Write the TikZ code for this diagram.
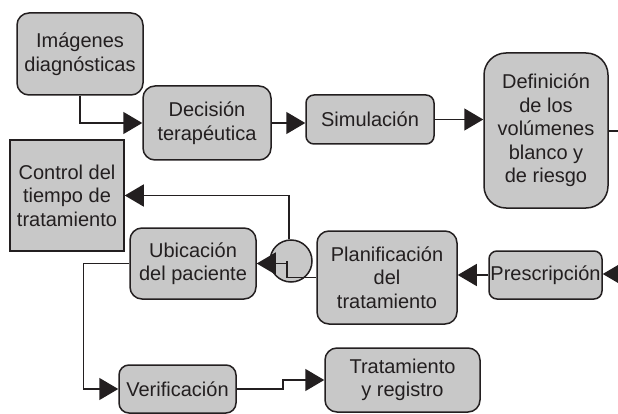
\documentclass[tikz,border=0pt]{standalone}
\usepackage{fontspec}
\setmainfont{Liberation Sans}
\usepackage{tikz}
\usetikzlibrary{arrows.meta}
\definecolor{boxgray}{RGB}{200,200,200}
\definecolor{inkc}{RGB}{35,31,32}

\begin{document}
\begin{tikzpicture}[x=1pt,y=-1pt, every node/.style={font=\fontsize{20}{23.5}\selectfont, text=inkc}]
		\tikzstyle{box}=[draw=inkc, fill=boxgray, line width=1.5pt, rounded corners=12pt, align=center, inner sep=0pt]
		\tikzstyle{flow}=[draw=inkc, line width=1.5pt, -{Triangle[length=19pt,width=22pt]}]
		\useasboundingbox (0,0) rectangle (618,414);
		
		\node[box, minimum width=126pt, minimum height=82pt]                     (img)  at (80, 54)     {Imágenes\\diagnósticas};
		\node[box, minimum width=128pt, minimum height=74pt]                     (dec)  at (207, 123)   {Decisión\\terapéutica};
		\node[box, minimum width=128pt, minimum height=49pt, rounded corners=8pt] (sim)  at (370, 119.5) {Simulación};
		\node[box, minimum width=124pt, minimum height=155pt, rounded corners=22pt] (defi) at (546, 130.5) {Definición\\de los\\volúmenes\\blanco y\\de riesgo};
		\node[box, minimum width=114pt, minimum height=111pt, sharp corners]     (ctrl) at (67, 195.5)  {Control del\\tiempo de\\tratamiento};
		\node[box, minimum width=126pt, minimum height=71pt]                     (ubi)  at (193, 263.5) {Ubicación\\del paciente};
		\node[box, minimum width=140pt, minimum height=93pt]                     (plan) at (387, 277.5) {Planificación\\del\\tratamiento};
		\node[box, minimum width=113pt, minimum height=48pt, rounded corners=8pt] (pres) at (545.5, 275) {Prescripción};
		\node[box, minimum width=117pt, minimum height=48pt, rounded corners=10pt] (ver)  at (177.5, 389) {Verificación};
		\node[box, minimum width=155pt, minimum height=64pt]                     (trat) at (402.5, 380) {Tratamiento\\y registro};
		\node[draw=inkc, fill=boxgray, line width=1.5pt, circle, minimum size=42pt, inner sep=0pt] (circ) at (291, 261) {};
		
		\coordinate (defiout) at (618, 131);
		\coordinate (presin)  at (618, 274);
		
		\draw[flow] (img.south) |- (dec.west);
		\draw[flow] (dec.east) -- (dec.east -| sim.west);
		\draw[flow] (sim.east) -- (sim.east -| defi.west);
		\draw[draw=inkc, line width=1.5pt] (defi.east |- defiout) -- (defiout);
		\draw[flow] (presin) -- (pres.east |- presin);
		\draw[flow] (pres.west) -- (pres.west -| plan.east);
		\draw[flow] (plan.west) -| ([xshift=-4pt]circ.center) |- (ubi.east);
		\draw[flow] ([xshift=-2pt]circ.north) |- (ctrl.east);
		\draw[flow] (ubi.west) -- ++(-46,0) |- (ver.west);
		\draw[flow] (ver.east) -- ++(46,0) |- (trat.west);
		\end{tikzpicture}
\end{document}
